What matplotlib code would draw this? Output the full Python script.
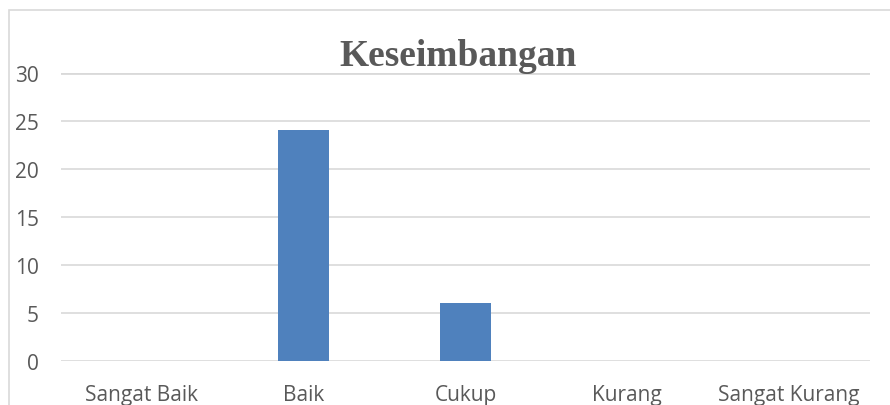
import matplotlib
matplotlib.use("Agg")
import matplotlib.pyplot as plt
from matplotlib.patches import Rectangle

categories = ["Sangat Baik", "Baik", "Cukup", "Kurang", "Sangat Kurang"]
values = [0, 24, 6, 0, 0]
yticks = [0, 5, 10, 15, 20, 25, 30]
title = "Keseimbangan"

W, H = 890, 406
fig = plt.figure(figsize=(W / 100, H / 100), dpi=100)
fig.patch.set_facecolor("white")

left, right, bottom, top = 61, 870, 362, 73.5
ax = fig.add_axes([left / W, 1 - bottom / H, (right - left) / W, (bottom - top) / H])

x = list(range(len(categories)))
ax.bar(x, values, width=0.315, color="#4F81BD", zorder=3)
ax.set_xlim(-0.5, len(categories) - 0.5)
ax.set_ylim(0, 30)
ax.set_yticks(yticks)
ax.set_xticks(x)
ax.set_xticklabels(categories)

for yv in yticks:
    ax.axhline(yv, color="#D9D9D9", lw=2.0 if yv == 30 else 1.2, zorder=1)

for s in ax.spines.values():
    s.set_visible(False)
ax.tick_params(axis="both", length=0, colors="#595959", labelsize=15)
ax.tick_params(axis="y", pad=16)
ax.tick_params(axis="x", pad=16.5)
for lab in ax.get_xticklabels() + ax.get_yticklabels():
    lab.set_family("Open Sans")
    lab.set_color("#595959")

fig.text(458 / W, 1 - 66 / H, title, ha="center", va="baseline",
         fontsize=27, fontweight="bold", family="Liberation Serif", color="#595959")

fig.patches.append(Rectangle((9 / W, -0.1), 1.2, 1 - 11 / H + 0.1,
                             transform=fig.transFigure, fill=False,
                             edgecolor="#D9D9D9", lw=1.2, zorder=0))

fig.savefig("out.png", dpi=100)
